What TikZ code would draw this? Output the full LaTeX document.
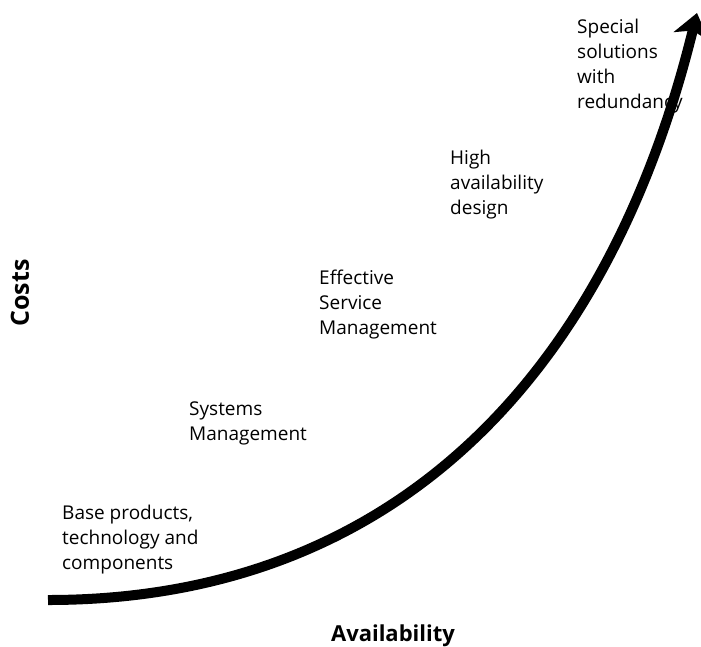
\documentclass[tikz,border=0pt]{standalone}
\usepackage{fontspec}
\setmainfont{Open Sans}
\usetikzlibrary{arrows.meta}
\begin{document}
\begin{tikzpicture}[x=1pt,y=-1pt,
  lbl/.style={anchor=base west,inner sep=0pt,align=left,font=\fontsize{19}{25}\selectfont},
  axis/.style={inner sep=0pt,font=\bfseries},
  curve/.style={line width=10pt,-{Stealth[length=24pt,width=36pt,inset=6pt]}}]
\useasboundingbox (0,0) rectangle (701,646);
\coordinate (start) at (48,600);
\coordinate (tip) at (697,13);
\draw[curve] (start) .. controls (400,600) and (610,368) .. (tip);
\node[lbl] (base) at (62,569) {Base products,\\technology and\\components};
\node[lbl] (sys) at (189,440) {Systems\\Management};
\node[lbl] (esm) at (319,334) {Effective\\Service\\Management};
\node[lbl] (had) at (450,214) {High\\availability\\design};
\node[lbl] (spec) at (577,108) {Special\\solutions\\with\\redundancy};
\node[axis,rotate=90,font=\fontsize{25}{30}\selectfont\bfseries] (costs) at (20,293) {Costs};
\node[axis,anchor=base,font=\fontsize{22}{26}\selectfont\bfseries] (avail) at (393,641) {Availability};
\end{tikzpicture}
\end{document}
